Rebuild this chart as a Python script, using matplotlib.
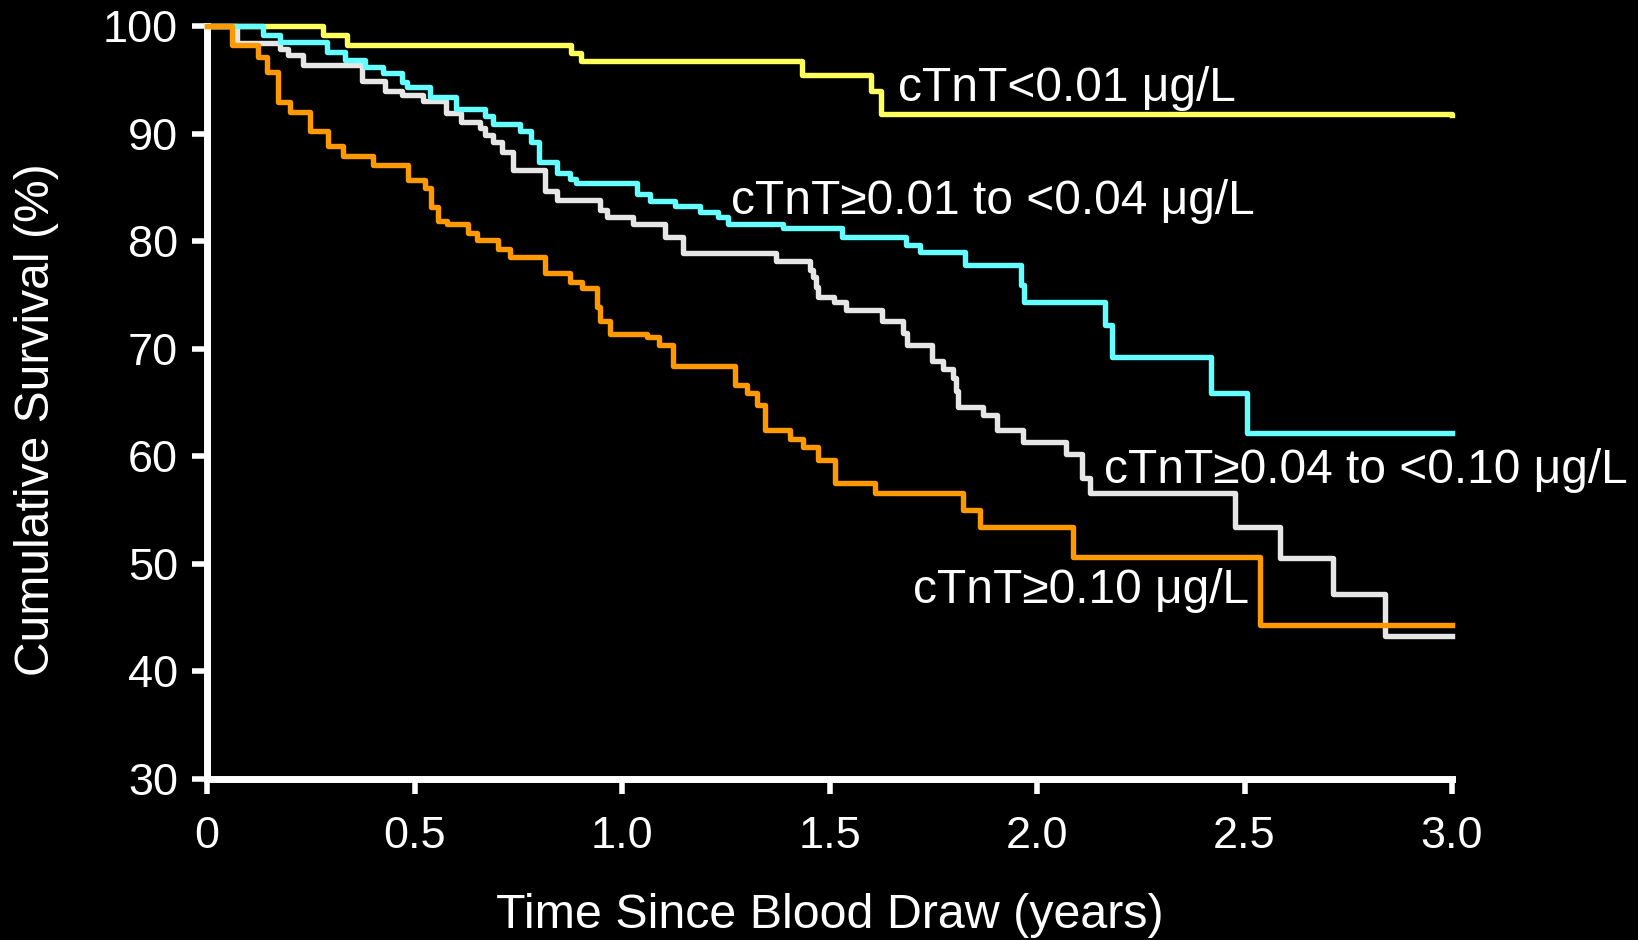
import matplotlib
matplotlib.use("Agg")
import matplotlib.pyplot as plt

plt.rcParams['font.family'] = ['Liberation Sans', 'DejaVu Sans']

# ---- data ----
t_low = [0, 0.28, 0.337, 0.877, 0.90, 1.434, 1.60, 1.624, 3.0]
s_low = [100, 99.2, 98.2, 97.5, 96.7, 95.4, 94.0, 91.8, 91.7]

t_mid1 = [0, 0.135, 0.176, 0.29, 0.333, 0.38, 0.424, 0.47, 0.482, 0.537, 0.60,
          0.67, 0.69, 0.754, 0.78, 0.80, 0.843, 0.875, 0.89, 1.036, 1.067,
          1.128, 1.188, 1.231, 1.255, 1.388, 1.530, 1.684, 1.718, 1.827,
          1.961, 1.969, 2.164, 2.18, 2.42, 2.505, 3.0]
s_mid1 = [100, 99.2, 98.5, 97.6, 96.8, 96.2, 95.6, 94.8, 94.3, 93.4, 92.3,
          91.6, 90.9, 90.2, 89.2, 87.4, 86.3, 85.8, 85.4, 84.4, 83.7,
          83.3, 82.7, 82.2, 81.6, 81.2, 80.4, 79.6, 79.0, 77.8,
          75.9, 74.3, 72.2, 69.2, 65.9, 62.2, 62.2]

t_mid2 = [0, 0.072, 0.176, 0.195, 0.232, 0.373, 0.43, 0.47, 0.52, 0.575,
          0.613, 0.657, 0.669, 0.69, 0.711, 0.737, 0.815, 0.843, 0.947,
          0.963, 1.027, 1.103, 1.147, 1.37, 1.453, 1.46, 1.468, 1.473,
          1.51, 1.54, 1.626, 1.678, 1.686, 1.747, 1.774, 1.798, 1.806,
          1.81, 1.87, 1.903, 1.967, 2.07, 2.108, 2.128, 2.477, 2.586,
          2.714, 2.838, 3.0]
s_mid2 = [100, 98.4, 97.9, 97.3, 96.4, 94.9, 94.0, 93.6, 93.0, 91.9,
          91.1, 90.5, 89.9, 89.2, 88.3, 86.6, 84.7, 83.8, 82.9,
          82.2, 81.6, 80.4, 78.9, 78.2, 77.3, 76.7, 75.7, 74.8,
          74.3, 73.6, 72.6, 71.5, 70.3, 68.9, 68.1, 67.3, 66.1,
          64.6, 63.8, 62.4, 61.3, 60.2, 58.0, 56.6, 53.4, 50.5,
          47.2, 43.3, 43.3]

t_high = [0, 0.06, 0.123, 0.145, 0.171, 0.2, 0.248, 0.292, 0.328, 0.40,
          0.485, 0.525, 0.54, 0.557, 0.578, 0.63, 0.65, 0.70, 0.73, 0.815,
          0.875, 0.903, 0.94, 0.947, 0.971, 1.06, 1.09, 1.123, 1.272, 1.30,
          1.325, 1.345, 1.405, 1.437, 1.473, 1.513, 1.61, 1.822, 1.863,
          2.087, 2.537, 3.0]
s_high = [100, 98.2, 97.1, 95.7, 92.9, 92.0, 90.2, 88.8, 87.9, 87.1,
          85.7, 84.9, 83.2, 81.9, 81.6, 80.8, 80.1, 79.3, 78.5, 77.0,
          76.2, 75.6, 73.9, 72.6, 71.4, 71.1, 70.3, 68.4, 66.6, 65.9,
          64.8, 62.4, 61.6, 60.9, 59.7, 57.5, 56.6, 55.0, 53.4,
          50.6, 44.3, 44.3]

labels = ["cTnT<0.01 \u03bcg/L",
          "cTnT\u22650.01 to <0.04 \u03bcg/L",
          "cTnT\u22650.04 to <0.10 \u03bcg/L",
          "cTnT\u22650.10 \u03bcg/L"]
label_pos = [(1.665, 93.0), (1.263, 82.5), (2.162, 57.5), (1.702, 46.4)]

x_ticks = [0, 0.5, 1.0, 1.5, 2.0, 2.5, 3.0]
x_ticklabels = ["0", "0.5", "1.0", "1.5", "2.0", "2.5", "3.0"]
y_ticks = [30, 40, 50, 60, 70, 80, 90, 100]

# ---- figure ----
fig = plt.figure(figsize=(16.38, 9.40), dpi=100, facecolor='black')
ax = fig.add_axes([207/1638, 1 - 779/940, (1452-207)/1638, (779-26)/940])
ax.set_facecolor('black')

lw = 3.9
ax.plot(t_low, s_low, drawstyle='steps-post', color='#FFFF5C', lw=lw, clip_on=False, zorder=3)
ax.plot(t_mid2, s_mid2, drawstyle='steps-post', color='#E6E6E6', lw=lw, clip_on=False, zorder=4)
ax.plot(t_mid1, s_mid1, drawstyle='steps-post', color='#66FFFF', lw=lw, clip_on=False, zorder=5)
ax.plot(t_high, s_high, drawstyle='steps-post', color='#FF9900', lw=lw, clip_on=False, zorder=6)

for lab, (x, y) in zip(labels, label_pos):
    ax.text(x, y, lab, color='white', fontsize=34.5, ha='left', va='baseline', zorder=7)

ax.set_xlim(0, 3.0)
ax.set_ylim(30, 100)
ax.set_xticks(x_ticks)
ax.set_xticklabels(x_ticklabels)
ax.set_yticks(y_ticks)

for s in ['top', 'right']:
    ax.spines[s].set_visible(False)
for s in ['left', 'bottom']:
    ax.spines[s].set_color('white')
    ax.spines[s].set_linewidth(5)
    ax.spines[s].set_capstyle('projecting')

ax.tick_params(axis='both', colors='white', width=4, length=11, direction='out',
               labelsize=32.5)
ax.tick_params(axis='x', pad=16)
ax.tick_params(axis='y', pad=10)

ax.set_xlabel("Time Since Blood Draw (years)", color='white', fontsize=34.8, va='center')
ax.xaxis.set_label_coords(0.5, (779 - 916) / 753)
ax.set_ylabel("Cumulative Survival (%)", color='white', fontsize=34.6, va='center')
ax.yaxis.set_label_coords((37 - 207) / 1245, (779 - 420) / 753)

fig.savefig("out.png", dpi=100, facecolor='black')
